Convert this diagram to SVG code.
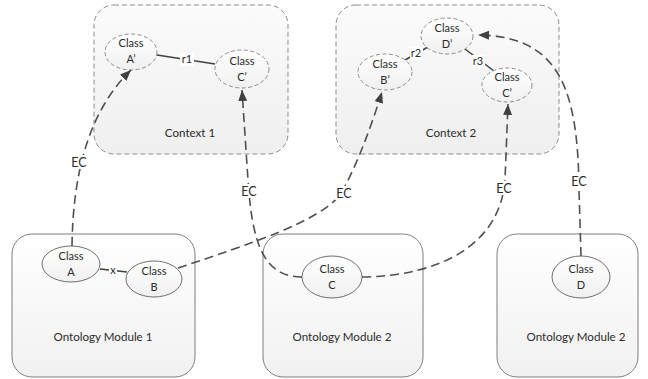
<svg xmlns="http://www.w3.org/2000/svg" width="648" height="379" viewBox="0 0 648 379">
  <defs>
    <linearGradient id="ctxFill" x1="0" y1="0" x2="0" y2="1">
      <stop offset="0" stop-color="#fbfbfb"/>
      <stop offset="1" stop-color="#efefef"/>
    </linearGradient>
    <linearGradient id="modFill" x1="0" y1="0" x2="0" y2="1">
      <stop offset="0" stop-color="#ffffff"/>
      <stop offset="1" stop-color="#f1f1f1"/>
    </linearGradient>
    <linearGradient id="ellFill" x1="0" y1="0" x2="0" y2="1">
      <stop offset="0" stop-color="#ffffff"/>
      <stop offset="1" stop-color="#f0f0f0"/>
    </linearGradient>
    <marker id="arrow" markerUnits="userSpaceOnUse" markerWidth="12" markerHeight="10" refX="11" refY="4.5" orient="auto">
      <path d="M0,0 L11,4.5 L0,9 z" fill="#404040"/>
    </marker>
  </defs>
  <style>
    text { font-family: Lato, "Open Sans", "Liberation Sans", sans-serif; fill: #2b2b2b; text-anchor: middle; }
    .lbl { font-size: 11px; }
    .big { font-size: 11.6px; }
    .ec { font-size: 12.5px; }
    .ctx { fill: url(#ctxFill); stroke: #8c8c8c; stroke-width: 1; stroke-dasharray: 5 3; }
    .mod { fill: url(#modFill); stroke: #7f7f7f; stroke-width: 1; }
    .cell { fill: url(#ellFill); stroke: #8c8c8c; stroke-width: 1; stroke-dasharray: 4 2.5; }
    .mell { fill: url(#ellFill); stroke: #6f6f6f; stroke-width: 1; }
    .rel { fill: none; stroke: #404040; stroke-width: 1.5; }
    .eq { fill: none; stroke: #505050; stroke-width: 1.6; stroke-dasharray: 9 5; }
    .bg { fill: #ffffff; }
  </style>

  <!-- Context containers -->
  <g id="context1">
    <rect class="ctx" x="94" y="5" width="194" height="149" rx="20" ry="20"/>
    <text class="big" x="190" y="137">Context 1</text>
  </g>
  <g id="context2">
    <rect class="ctx" x="336" y="5" width="223" height="149" rx="20" ry="20"/>
    <text class="big" x="451" y="137">Context 2</text>
  </g>

  <!-- Ontology modules -->
  <g id="module1">
    <rect class="mod" x="12" y="234" width="183" height="143" rx="20" ry="20"/>
    <text class="big" x="103" y="341">Ontology Module 1</text>
  </g>
  <g id="module2">
    <rect class="mod" x="263" y="234" width="160" height="143" rx="20" ry="20"/>
    <text class="big" x="342" y="341">Ontology Module 2</text>
  </g>
  <g id="module3">
    <rect class="mod" x="497" y="234" width="141" height="143" rx="20" ry="20"/>
    <text class="big" x="576" y="341">Ontology Module 2</text>
  </g>

  <!-- Relations inside contexts and modules -->
  <g id="relations">
    <line class="rel" x1="157" y1="55" x2="215" y2="64"/>
    <rect class="bg" x="180" y="53" width="14" height="13"/>
    <text class="lbl" x="187" y="63">r1</text>

    <line class="rel" x1="405" y1="60" x2="428" y2="47"/>
    <rect class="bg" x="410" y="47" width="13" height="13"/>
    <text class="lbl" x="416" y="57">r2</text>

    <line class="rel" x1="465" y1="49" x2="494" y2="71"/>
    <rect class="bg" x="472" y="55" width="13" height="13"/>
    <text class="lbl" x="478" y="65">r3</text>

    <line class="rel" x1="100" y1="269" x2="127" y2="272"/>
    <rect class="bg" x="109" y="265" width="8" height="11"/>
    <text class="lbl" x="113" y="274">x</text>
  </g>

  <!-- Classes in contexts -->
  <g id="classA2">
    <ellipse class="cell" cx="131" cy="52" rx="26" ry="18"/>
    <text class="lbl" x="131" y="47">Class</text>
    <text class="lbl" x="131" y="63">A’</text>
  </g>
  <g id="classC2">
    <ellipse class="cell" cx="242" cy="69" rx="27" ry="19"/>
    <text class="lbl" x="242" y="65">Class</text>
    <text class="lbl" x="242" y="81">C’</text>
  </g>
  <g id="classD2">
    <ellipse class="cell" cx="447" cy="36" rx="26" ry="18"/>
    <text class="lbl" x="447" y="32">Class</text>
    <text class="lbl" x="447" y="48">D’</text>
  </g>
  <g id="classB2">
    <ellipse class="cell" cx="385" cy="72" rx="27" ry="18"/>
    <text class="lbl" x="385" y="68">Class</text>
    <text class="lbl" x="385" y="84">B’</text>
  </g>
  <g id="classC3">
    <ellipse class="cell" cx="507" cy="85" rx="25" ry="17"/>
    <text class="lbl" x="507" y="81">Class</text>
    <text class="lbl" x="507" y="97">C’</text>
  </g>

  <!-- Classes in modules -->
  <g id="classA">
    <ellipse class="mell" cx="71" cy="264" rx="29" ry="18"/>
    <text class="lbl" x="71" y="260">Class</text>
    <text class="lbl" x="71" y="276">A</text>
  </g>
  <g id="classB">
    <ellipse class="mell" cx="154" cy="279" rx="28" ry="18"/>
    <text class="lbl" x="154" y="275">Class</text>
    <text class="lbl" x="154" y="291">B</text>
  </g>
  <g id="classC">
    <ellipse class="mell" cx="332" cy="277" rx="30" ry="21"/>
    <text class="lbl" x="332" y="273">Class</text>
    <text class="lbl" x="332" y="289">C</text>
  </g>
  <g id="classD">
    <ellipse class="mell" cx="581" cy="277" rx="29" ry="21"/>
    <text class="lbl" x="581" y="273">Class</text>
    <text class="lbl" x="581" y="289">D</text>
  </g>

  <!-- EC connectors -->
  <g id="connectors">
    <path class="eq" d="M72,246 C73,170 90,110 131,70" marker-end="url(#arrow)"/>
    <path class="eq" d="M302,277 C262,277 252,240 248,180 L242,90" marker-end="url(#arrow)"/>
    <path class="eq" d="M178,268 C250,244 318,222 340,195 C355,170 370,130 382,92" marker-end="url(#arrow)"/>
    <path class="eq" d="M362,277 C440,276 500,245 505,180 L508,104" marker-end="url(#arrow)"/>
    <path class="eq" d="M581,256 L579,190 C578,90 560,36 478,35" marker-end="url(#arrow)"/>

    <rect class="bg" x="70" y="155" width="19" height="14"/>
    <text class="ec" x="79" y="167">EC</text>
    <rect class="bg" x="240" y="184" width="19" height="14"/>
    <text class="ec" x="249" y="196">EC</text>
    <rect class="bg" x="335" y="186" width="19" height="14"/>
    <text class="ec" x="344" y="198">EC</text>
    <rect class="bg" x="495" y="181" width="19" height="14"/>
    <text class="ec" x="504" y="193">EC</text>
    <rect class="bg" x="570" y="174" width="19" height="14"/>
    <text class="ec" x="579" y="186">EC</text>
  </g>
</svg>
